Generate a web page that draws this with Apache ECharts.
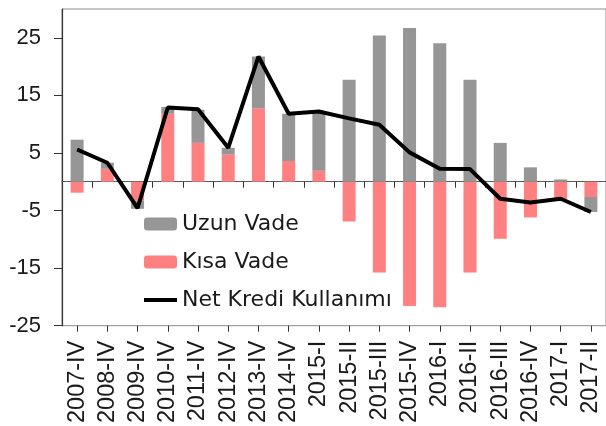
<!DOCTYPE html>
<html>
<head>
<meta charset="utf-8">
<script src="https://cdn.jsdelivr.net/npm/echarts@6/dist/echarts.min.js"></script>
<style>html,body{margin:0;padding:0;background:#fff;}#c{width:606px;height:426px;}</style>
</head>
<body>
<div id="c"></div>
<script>
const categories = ['2007-IV','2008-IV','2009-IV','2010-IV','2011-IV','2012-IV','2013-IV','2014-IV','2015-I','2015-II','2015-III','2015-IV','2016-I','2016-II','2016-III','2016-IV','2017-I','2017-II'];
const uzunVade = [7.3, 1.05, -1.4, 1.2, 5.75, 1.2, 9.0, 8.2, 10.2, 17.7, 25.4, 26.7, 24.05, 17.7, 6.75, 2.5, 0.4, -2.6];
const kisaVade = [-1.9, 2.25, -3.3, 11.8, 6.75, 4.7, 12.75, 3.6, 1.9, -6.9, -15.75, -21.6, -21.8, -15.75, -9.9, -6.2, -3.1, -2.65];
const netKredi = [5.6, 3.3, -4.6, 12.9, 12.6, 5.9, 21.75, 11.8, 12.2, 11.0, 9.9, 5.1, 2.25, 2.2, -2.95, -3.6, -2.95, -5.25];
const yTicks = [-25, -15, -5, 5, 15, 25];
const seriesNames = ['Uzun Vade', 'Kısa Vade', 'Net Kredi Kullanımı'];

const chart = echarts.init(document.getElementById('c'), null, {renderer: 'canvas'});
const labelFont = 'Liberation Sans';
chart.setOption({
  animation: false,
  backgroundColor: '#ffffff',
  grid: {left: 62, top: 9, width: 547, height: 318, show: true, borderColor: '#8c8c8c', borderWidth: 1, backgroundColor: 'transparent', containLabel: false},
  legend: {
    orient: 'vertical', left: 137, top: 207, itemWidth: 33, itemHeight: 13, itemGap: 14,
    data: [
      {name: seriesNames[0]},
      {name: seriesNames[1]},
      {name: seriesNames[2], itemStyle: {opacity: 0}, lineStyle: {width: 4, color: '#000'}}
    ],
    textStyle: {fontFamily: 'DejaVu Sans', fontSize: 22, color: '#1a1a1a', lineHeight: 24}
  },
  xAxis: [
    {type: 'category', data: categories, position: 'bottom',
     axisLine: {onZero: true, lineStyle: {color: '#5a5a5a', width: 1.2}},
     axisTick: {show: true, interval: 0, length: 6, lineStyle: {color: '#333'}},
     axisLabel: {show: false}, splitLine: {show: false}},
    {type: 'category', data: categories, position: 'bottom',
     axisLine: {show: false, onZero: true},
     axisTick: {show: true, interval: 0, alignWithLabel: true, length: 6, lineStyle: {color: '#333'}},
     axisLabel: {show: false}, splitLine: {show: false}},
    {type: 'category', data: categories, position: 'bottom',
     axisLine: {show: false, onZero: false},
     axisTick: {show: false},
     axisLabel: {show: true, interval: 0, rotate: 90, margin: 15, fontFamily: labelFont, fontSize: 23.5, color: '#1a1a1a'},
     splitLine: {show: false}}
  ],
  yAxis: {
    type: 'value', min: -25, max: 30, interval: 5,
    axisLine: {show: true, lineStyle: {color: '#333', width: 1.2}},
    axisTick: {show: true, length: 8, customValues: yTicks, lineStyle: {color: '#333'}},
    axisLabel: {customValues: yTicks, margin: 21, fontFamily: labelFont, fontSize: 22, color: '#1a1a1a'},
    splitLine: {show: false}
  },
  series: [
    {name: seriesNames[1], type: 'bar', stack: 'kredi', xAxisIndex: 0, data: kisaVade, barWidth: 13,
     itemStyle: {color: '#ff8080'}},
    {name: seriesNames[0], type: 'bar', stack: 'kredi', xAxisIndex: 0, data: uzunVade, barWidth: 13,
     itemStyle: {color: '#969696'}},
    {name: seriesNames[2], type: 'line', xAxisIndex: 0, data: netKredi, symbol: 'none', z: 5,
     lineStyle: {color: '#000', width: 4}, itemStyle: {color: '#000'}}
  ]
});
</script>
</body>
</html>
